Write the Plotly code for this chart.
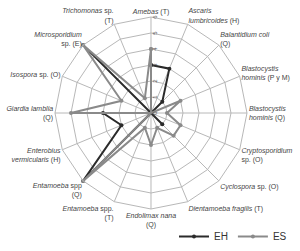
import plotly.graph_objects as go

categories = [
    "<i>Amebas</i> (T)",
    "<i>Ascaris<br>lumbricoides</i> (H)",
    "<i>Balantidium coli</i><br>(Q)",
    "<i>Blastocystis<br>hominis</i> (P y M)",
    "<i>Blastocystis<br>hominis</i> (Q)",
    "<i>Cryptosporidium</i><br>sp. (O)",
    "<i>Cyclospora</i> sp. (O)",
    "<i>Dientamoeba fragilis</i> (T)",
    "<i>Endolimax nana</i><br>(Q)",
    "<i>Entamoeba</i> spp.<br>(T)",
    "<i>Entamoeba</i> spp<br>(Q)",
    "<i>Enterobius<br>vermicularis</i> (H)",
    "<i>Giardia lamblia</i><br>(Q)",
    "<i>Isospora</i> sp. (O)",
    "<i>Microsporidium</i><br>sp. (E)",
    "<i>Trichomonas</i> sp.<br>(T)",
]
eh_values = [3, 3, 1, 0, 0, 0, 1, 0, 0, 0, 6, 2, 3, 0, 6, 0]
es_values = [4, 0, 0, 2, 1, 2, 2, 1, 2, 1, 6, 0, 5, 2, 6, 1]
radial_ticks = [0, 1, 2, 3, 4, 5, 6]

def closed(v):
    return list(v) + [v[0]]

fig = go.Figure()
fig.add_trace(go.Scatterpolar(
    r=closed(eh_values), theta=closed(categories), name="EH",
    mode="lines+markers",
    line=dict(color="#2b2b2b", width=2),
    marker=dict(color="#2b2b2b", size=4, symbol="circle"),
))
fig.add_trace(go.Scatterpolar(
    r=closed(es_values), theta=closed(categories), name="ES",
    mode="lines+markers",
    line=dict(color="#8a8a8a", width=2),
    marker=dict(color="#8a8a8a", size=4, symbol="circle"),
))

fig.update_layout(
    width=300, height=251,
    margin=dict(l=0, r=0, t=0, b=0),
    paper_bgcolor="white",
    plot_bgcolor="white",
    font=dict(family="Liberation Sans, Arial, sans-serif", size=7, color="#444"),
    polar=dict(
        domain=dict(x=[0.1833, 0.8233], y=[0.1673, 0.9323]),
        gridshape="linear",
        bgcolor="white",
        angularaxis=dict(
            direction="clockwise", rotation=90,
            showline=True, linecolor="#b8b8b8", linewidth=1,
            gridcolor="#b8b8b8", gridwidth=1,
            ticks="", tickfont=dict(size=7, color="#444"),
        ),
        radialaxis=dict(
            range=[0, 6], tickvals=radial_ticks, angle=90,
            showline=False, gridcolor="#b8b8b8", gridwidth=1,
            ticks="", tickfont=dict(size=6, color="#555"),
            tickangle=0,
        ),
    ),
    legend=dict(
        orientation="h", x=0.58, y=0.0, xanchor="left", yanchor="bottom",
        font=dict(size=10, color="#333"),
        bgcolor="rgba(0,0,0,0)",
    ),
)

fig.write_html("out.html")
